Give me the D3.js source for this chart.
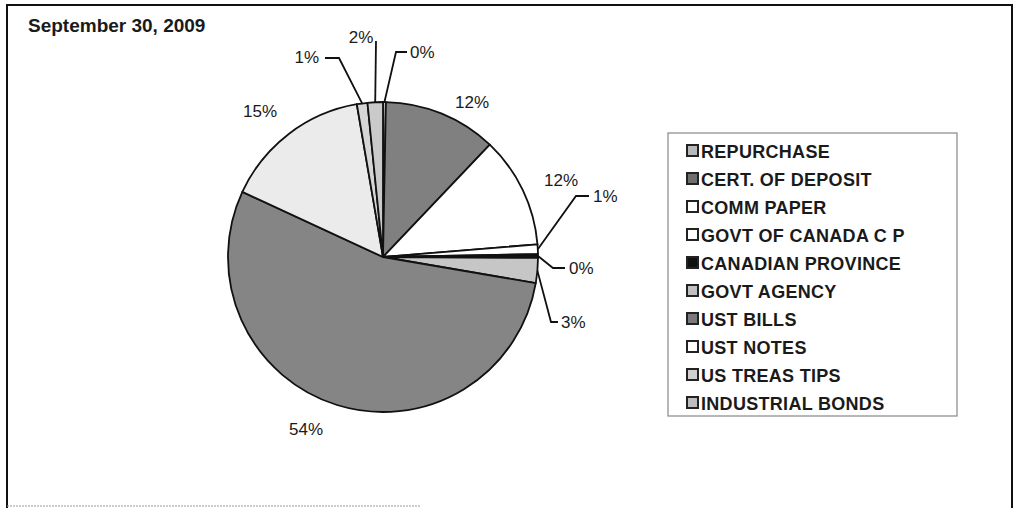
<!DOCTYPE html>
<html>
<head>
<meta charset="utf-8">
<script src="https://cdn.jsdelivr.net/npm/d3@7"></script>
<style>
  body { margin: 0; background: #fff; }
  svg { display: block; }
  text { font-family: "Liberation Sans", Arial, sans-serif; fill: #1a1a1a; }
</style>
</head>
<body>
<div id="chart"></div>
<script>
// data (percent of portfolio)
let categories = ["REPURCHASE", "CERT. OF DEPOSIT", "COMM PAPER", "GOVT OF CANADA C P",
    "CANADIAN PROVINCE", "GOVT AGENCY", "UST BILLS", "UST NOTES", "US TREAS TIPS", "INDUSTRIAL BONDS"];
let values = [0.3, 11.8, 11.6, 1.0, 0.4, 2.6, 54.2, 15.4, 1.1, 1.6];
let title = "September 30, 2009";

// grey shades for each slice
let fills = ["#c9c9c9", "#808080", "#ffffff", "#ffffff", "#111111",
    "#c6c6c6", "#858585", "#ebebeb", "#d6d6d6", "#cacaca"];
let swatchFills = ["#b8b8b8", "#6f6f6f", "#ffffff", "#ffffff", "#111111",
    "#c0c0c0", "#7a7a7a", "#ffffff", "#d0d0d0", "#bdbdbd"];

let width = 1017;
let height = 508;
let cx = 383, cy = 257, radius = 155;

// label placement, relative to the pie centre: text anchor point and leader elbow / end
let labelLayout = [
    {x: 27, y: -199, anchor: "start", elbow: [13, -205], end: [24, -205]},
    {x: 89, y: -149, anchor: "middle"},
    {x: 178, y: -71, anchor: "middle"},
    {x: 210, y: -55, anchor: "start", elbow: [193, -61], end: [206, -61]},
    {x: 186, y: 17, anchor: "start", elbow: [170, 11], end: [182, 11]},
    {x: 178, y: 71, anchor: "start", elbow: [168, 65], end: [175, 65]},
    {x: -77, y: 178, anchor: "middle"},
    {x: -123, y: -140, anchor: "middle"},
    {x: -64, y: -194, anchor: "end", elbow: [-44, -199], end: [-58, -199]},
    {x: -22, y: -214, anchor: "middle", elbow: [-7, -216], end: [-7, -216]}
];

let svg = d3.select('#chart')
    .append('svg')
        .attr('width', width)
        .attr('height', height);

// frame
svg.append("path")
    .attr("d", "M7,508 L7,5 L1012,5 L1012,508")
    .attr("fill", "none")
    .attr("stroke", "#111")
    .attr("stroke-width", 2);
svg.append("line")
    .attr("x1", 7).attr("x2", 420)
    .attr("y1", 506).attr("y2", 506)
    .attr("stroke", "#999")
    .attr("stroke-width", 1)
    .attr("stroke-dasharray", "2,1");

svg.append("text")
    .attr("x", 28)
    .attr("y", 32)
    .attr("font-size", "19px")
    .attr("font-weight", "bold")
    .text(title);

let pie = d3.pie().sort(null).value(function (d) { return d; });
let arcs = pie(values);

let arc = d3.arc().innerRadius(0).outerRadius(radius);

let g = svg.append("g")
    .attr("transform", "translate(" + cx + "," + cy + ")");

g.selectAll("path.slice")
    .data(arcs)
    .enter()
    .append("path")
        .attr("class", "slice")
        .attr("d", arc)
        .attr("fill", function (d, i) { return fills[i]; })
        .attr("stroke", "#111")
        .attr("stroke-width", 1.8)
        .attr("stroke-linejoin", "round");

// leader lines start on the rim at the middle of the slice
let rim = d3.arc().innerRadius(radius).outerRadius(radius);

g.selectAll("path.leader")
    .data(arcs.filter(function (d, i) { return labelLayout[i].elbow; }))
    .enter()
    .append("path")
        .attr("class", "leader")
        .attr("fill", "none")
        .attr("stroke", "#111")
        .attr("stroke-width", 1.8)
        .attr("d", function (d) {
            let L = labelLayout[d.index];
            let p = rim.centroid(d);
            return "M" + p[0] + "," + p[1] + "L" + L.elbow[0] + "," + L.elbow[1] + "L" + L.end[0] + "," + L.end[1];
        });

g.selectAll("text.pct")
    .data(arcs)
    .enter()
    .append("text")
        .attr("class", "pct")
        .attr("x", function (d) { return labelLayout[d.index].x; })
        .attr("y", function (d) { return labelLayout[d.index].y; })
        .attr("text-anchor", function (d) { return labelLayout[d.index].anchor; })
        .attr("font-size", "17px")
        .text(function (d) { return Math.round(d.data) + "%"; });

// legend
let legend = svg.append("g").attr("transform", "translate(668,133)");
legend.append("rect")
    .attr("width", 289)
    .attr("height", 283)
    .attr("fill", "#fff")
    .attr("stroke", "#888")
    .attr("stroke-width", 1.2);

let rowY = d3.scalePoint().domain(categories).range([18, 270]);

let rows = legend.selectAll("g.row")
    .data(categories)
    .enter()
    .append("g")
        .attr("class", "row")
        .attr("transform", function (d) { return "translate(0," + rowY(d) + ")"; });

rows.append("rect")
    .attr("x", 19)
    .attr("y", -6)
    .attr("width", 11)
    .attr("height", 11)
    .attr("fill", function (d, i) { return swatchFills[i]; })
    .attr("stroke", "#222")
    .attr("stroke-width", 2);

rows.append("text")
    .attr("x", 33)
    .attr("y", 6.5)
    .attr("font-size", "18px")
    .attr("font-weight", "bold")
    .attr("letter-spacing", "0.3px")
    .text(function (d) { return d; });
</script>
</body>
</html>
